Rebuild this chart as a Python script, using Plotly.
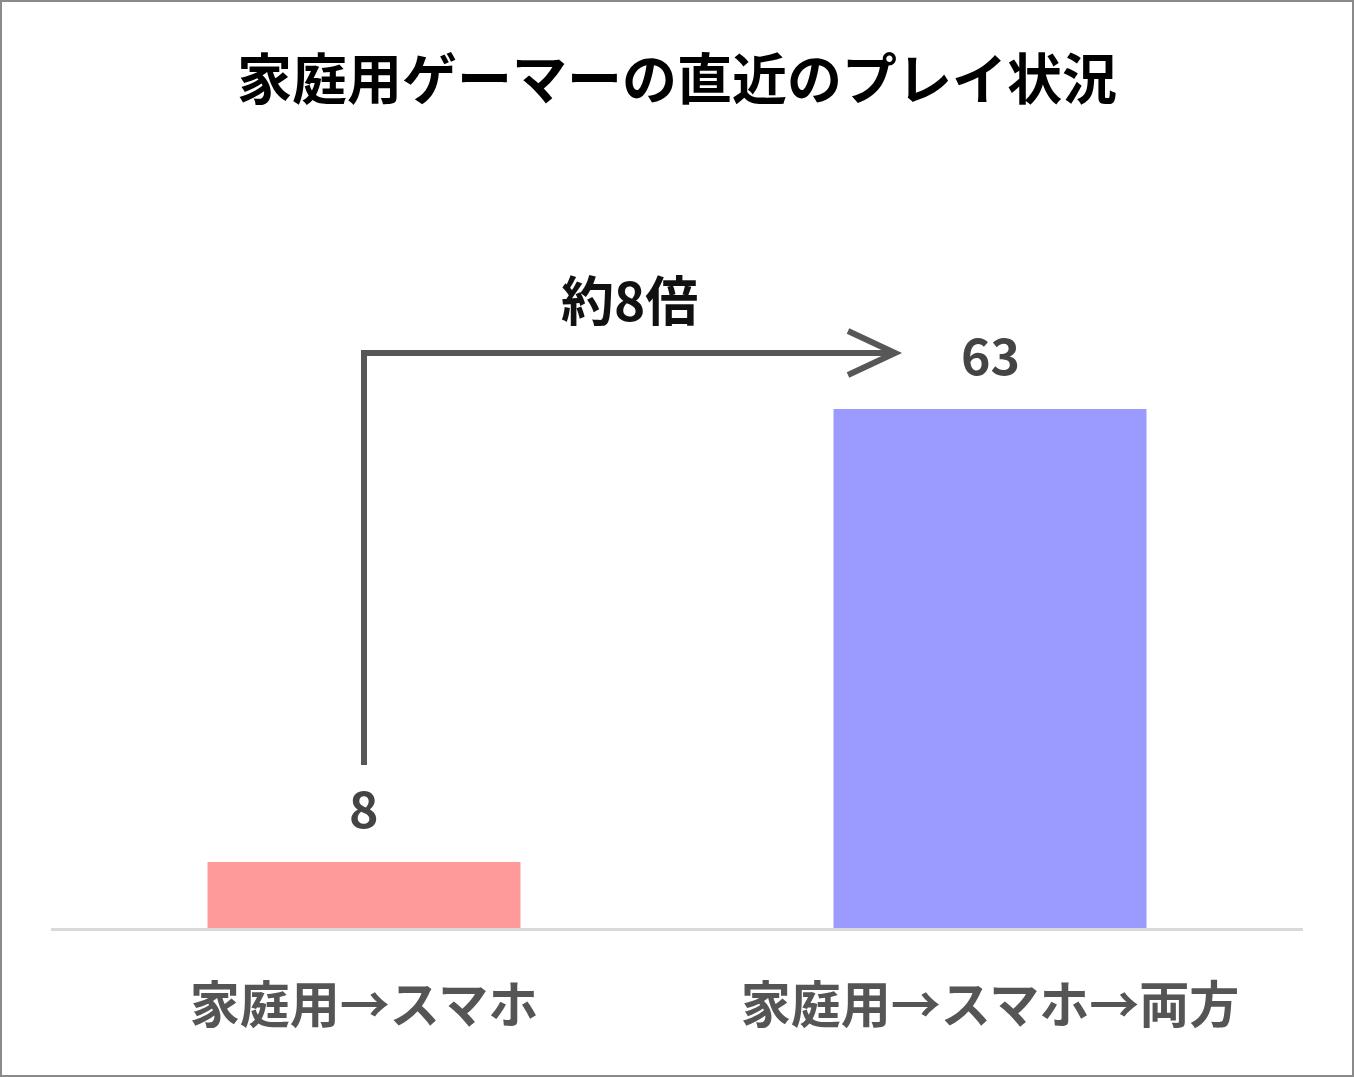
import plotly.graph_objects as go

categories = ["家庭用→スマホ", "家庭用→スマホ→両方"]
values = [8, 63]
bar_colors = ["#ff9a9a", "#9a9aff"]
title_text = "家庭用ゲーマーの直近のプレイ状況"
ratio_text = "約8倍"

W, H = 1354, 1077
ml, mr, mt, mb = 51, 51, 150, 149
plot_w = W - ml - mr
plot_h = H - mt - mb
px_per_unit = 519 / 63
ymax = plot_h / px_per_unit
cat_px = plot_w / len(categories)

FONT = "Noto Sans CJK JP"

fig = go.Figure()
fig.add_trace(go.Bar(
    x=categories, y=values, marker=dict(color=bar_colors, line=dict(width=0)),
    hoverinfo="skip", showlegend=False,
))

# value labels
for c, v in zip(categories, values):
    fig.add_annotation(x=c, y=v, xref="x", yref="y", text=f"<b>{v}</b>",
                       showarrow=False, yanchor="bottom", yshift=18,
                       font=dict(family=FONT, size=50, color="#444444"))

# arrow from bar 1 to bar 2
u = 1 / px_per_unit
y_bottom = values[0] + 97 * u
y_top = values[1] + 56 * u
x_start = 0.0
x_tip = 1 - 95 / cat_px
arm_dx = 47 / cat_px
arm_dy = 22 * u
arrow_color = "#575757"
fig.add_shape(type="path", xref="x", yref="y",
              path=f"M {x_start},{y_bottom} L {x_start},{y_top} L {x_tip},{y_top}",
              line=dict(color=arrow_color, width=6))
fig.add_shape(type="path", xref="x", yref="y",
              path=f"M {x_tip-arm_dx},{y_top+arm_dy} L {x_tip},{y_top} L {x_tip-arm_dx},{y_top-arm_dy}",
              line=dict(color=arrow_color, width=6))
fig.add_annotation(x=(x_start + x_tip) / 2, y=y_top, xref="x", yref="y",
                   text=f"<b>{ratio_text}</b>", showarrow=False, yanchor="middle",
                   yshift=55, font=dict(family=FONT, size=53, color="#111111"))

# outer border
fig.add_shape(type="rect", xref="paper", yref="paper",
              x0=(1 - ml) / plot_w, x1=1 + (mr - 1) / plot_w,
              y0=-(mb - 1) / plot_h, y1=1 + (mt - 1) / plot_h,
              line=dict(color="#8a8a8a", width=2), fillcolor="rgba(0,0,0,0)")

fig.update_layout(
    width=W, height=H,
    margin=dict(l=ml, r=mr, t=mt, b=mb),
    paper_bgcolor="white", plot_bgcolor="white",
    bargap=0.5,
    title=dict(text=f"<b>{title_text}</b>", x=0.5, xanchor="center",
               y=1 - 80 / H, yanchor="middle", yref="container",
               font=dict(family=FONT, size=55, color="#000000")),
    font=dict(family=FONT),
)
fig.update_xaxes(showline=True, linecolor="#d9d9d9", linewidth=3,
                 showgrid=False, ticks="", ticklabelstandoff=32,
                 tickfont=dict(family=FONT, size=50, color="#555555"),
                 tickvals=categories, ticktext=[f"<b>{c}</b>" for c in categories])
fig.update_yaxes(visible=False, range=[0, ymax], showgrid=False, zeroline=False)

fig.write_html("out.html", config={"displayModeBar": False},
               post_script="document.body.style.margin='0';")
